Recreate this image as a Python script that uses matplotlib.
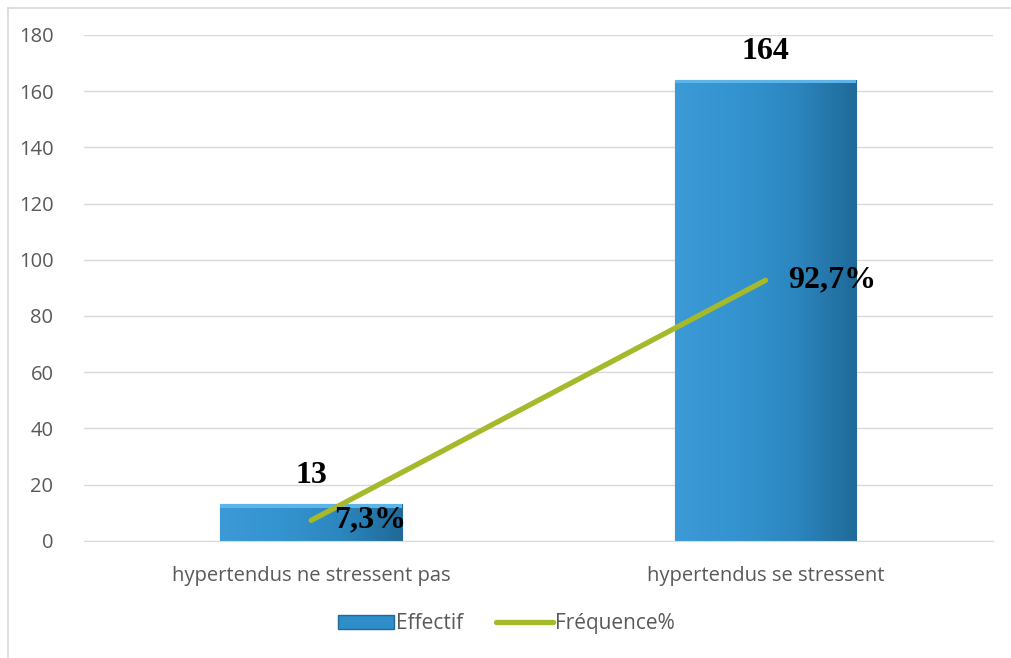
import numpy as np
import matplotlib.pyplot as plt
from matplotlib.lines import Line2D
from matplotlib.patches import Rectangle

categories = ["hypertendus ne stressent pas", "hypertendus se stressent"]
effectif = [13, 164]
frequence = [7.3, 92.7]
freq_labels = ["7,3%", "92,7%"]

fig = plt.figure(figsize=(10.12, 6.58), dpi=100)
ax = fig.add_axes([0.083, 0.178, 0.898, 0.769])

x = np.arange(len(categories))
bars = ax.bar(x, effectif, width=0.4, color="#2F8DC9", edgecolor="#1F6A98", linewidth=0.8, zorder=2)

# horizontal gradient to mimic the bevelled look
grad = np.linspace(0, 1, 256).reshape(1, -1)
cmap = plt.matplotlib.colors.LinearSegmentedColormap.from_list(
    "b", ["#3C9AD6", "#3494CF", "#2C86BF", "#1F6A98"])
for b in bars:
    x0, w, h = b.get_x(), b.get_width(), b.get_height()
    im = ax.imshow(grad, cmap=cmap, aspect="auto", extent=[x0, x0 + w, 0, h], zorder=2.1)
    im.set_clip_path(b)
    ax.add_patch(Rectangle((x0, h - 1.2), w, 1.2, color="#5DB4E8", zorder=2.2, lw=0))

ax.plot(x, frequence, color="#A6B92B", lw=3.8, solid_capstyle="round", zorder=3)

for xi, v in zip(x, effectif):
    ax.text(xi, v + 5, str(v), ha="center", va="bottom", fontsize=23,
            fontweight="bold", family="Liberation Serif", color="black")
for xi, v, lab in zip(x, frequence, freq_labels):
    ax.text(xi + 0.05, v, lab, ha="left", va="center", fontsize=23,
            fontweight="bold", family="Liberation Serif", color="black", zorder=4)

ax.set_xlim(-0.5, 1.5)
ax.set_ylim(0, 180)
ax.set_yticks(range(0, 181, 20))
ax.set_xticks(x)
ax.set_xticklabels(categories)
ax.grid(axis="y", color="#D9D9D9", lw=1, zorder=0)
ax.set_axisbelow(True)
for s in ["top", "right", "left"]:
    ax.spines[s].set_visible(False)
ax.spines["bottom"].set_color("#D9D9D9")
ax.tick_params(length=0, labelsize=14.5, colors="#595959", pad=22)
ax.tick_params(axis="x", pad=18)
for t in ax.get_xticklabels() + ax.get_yticklabels():
    t.set_family("Open Sans")

handles = [Rectangle((0, 0), 1, 1, facecolor="#2F8DC9", edgecolor="#1F6A98"),
           Line2D([0], [0], color="#A6B92B", lw=3.8, solid_capstyle="round")]
leg = fig.legend(handles, ["Effectif", "Fréquence%"], loc="center", bbox_to_anchor=(0.5, 0.052),
                 ncol=2, frameon=False, handlelength=2.7, handletextpad=0.1, columnspacing=1.6,
                 prop={"family": "Open Sans", "size": 15})
for t in leg.get_texts():
    t.set_color("#595959")

# outer frame (only left/top visible in the crop)
fig.add_artist(Line2D([8 / 1012, 8 / 1012], [0, 1 - 8 / 658], color="#D9D9D9", lw=1.2))
fig.add_artist(Line2D([8 / 1012, 1], [1 - 8 / 658, 1 - 8 / 658], color="#D9D9D9", lw=1.2))

plt.savefig("out.png", dpi=100)
